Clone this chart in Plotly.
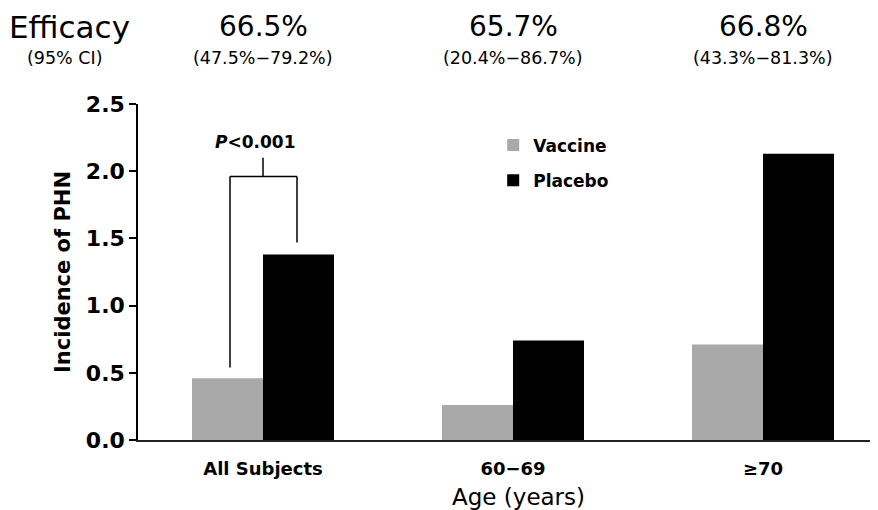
import plotly.graph_objects as go

categories = ["All Subjects", "60\u221269", "\u226570"]
vaccine = [0.46, 0.26, 0.71]
placebo = [1.38, 0.74, 2.13]
efficacy = ["66.5%", "65.7%", "66.8%"]
ci = ["(47.5%\u221279.2%)", "(20.4%\u221286.7%)", "(43.3%\u221281.3%)"]
yticks = [0.0, 0.5, 1.0, 1.5, 2.0, 2.5]

FONT = "DejaVu Sans"
xpos = list(range(len(categories)))

fig = go.Figure()
fig.add_trace(go.Bar(x=xpos, y=vaccine, name="<b>Vaccine</b>", marker_color="#a9a9a9",
                     marker_line_width=0, legendgroup="v"))
fig.add_trace(go.Bar(x=xpos, y=placebo, name="<b>Placebo</b>", marker_color="#000000",
                     marker_line_width=0, legendgroup="p"))

# significance bracket
lc = dict(color="black", width=1.5)
bl, br, bc = -0.132, 0.136, 0.0
fig.add_shape(type="line", x0=bl, x1=bl, y0=0.54, y1=1.96, line=lc)
fig.add_shape(type="line", x0=bl, x1=br, y0=1.96, y1=1.96, line=lc)
fig.add_shape(type="line", x0=br, x1=br, y0=1.96, y1=1.47, line=lc)
fig.add_shape(type="line", x0=bc, x1=bc, y0=1.96, y1=2.10, line=lc)
fig.add_annotation(x=-0.03, y=2.22, xref="x", yref="y", text="<b><i>P</i>&lt;0.001</b>",
                   showarrow=False, font=dict(family=FONT, size=17, color="black"))

# header
Y1, Y2 = (440 - 27) / 336, (440 - 58) / 336
fig.add_annotation(x=-0.093, y=Y1, xref="paper", yref="paper", text="Efficacy", showarrow=False,
                   xanchor="center", yanchor="middle", borderpad=0,
                   font=dict(family=FONT, size=31, color="black"))
fig.add_annotation(x=-0.098, y=Y2, xref="paper", yref="paper", text="(95% CI)", showarrow=False,
                   xanchor="center", yanchor="middle", borderpad=0,
                   font=dict(family=FONT, size=17.5, color="black"))
for i in xpos:
    fig.add_annotation(x=i, y=Y1, xref="x", yref="paper", text=efficacy[i], showarrow=False,
                       xanchor="center", yanchor="middle", borderpad=0,
                       font=dict(family=FONT, size=28, color="black"))
    fig.add_annotation(x=i, y=Y2, xref="x", yref="paper", text=ci[i], showarrow=False,
                       xanchor="center", yanchor="middle", borderpad=0,
                       font=dict(family=FONT, size=17.5, color="black"))

# x-axis title (offset right of centre as in the original)
fig.add_annotation(x=(519 - 138) / 740, y=-(497 - 440) / 336, xref="paper", yref="paper",
                   text="Age (years)", showarrow=False, xanchor="center", yanchor="middle",
                   borderpad=0, font=dict(family=FONT, size=23, color="black"))

fig.update_layout(
    width=878, height=510,
    margin=dict(l=130, r=8, t=96, b=78),
    paper_bgcolor="white", plot_bgcolor="white",
    barmode="group", bargap=0.432, bargroupgap=0,
    font=dict(family=FONT, color="black"),
    legend=dict(x=0.48, y=0.93, xanchor="left", yanchor="top", traceorder="grouped",
                tracegroupgap=10, font=dict(family=FONT, size=17, color="black"),
                bgcolor="rgba(0,0,0,0)"),
    xaxis=dict(range=[-0.5, 2.46], tickmode="array", tickvals=xpos,
               ticktext=["<b>%s</b>" % c for c in categories],
               tickfont=dict(family=FONT, size=18, color="black"),
               showline=True, linecolor="#222", linewidth=2, ticks="", showgrid=False,
               zeroline=False, ticklabelstandoff=11),
    yaxis=dict(range=[0, 2.5], tickmode="array", tickvals=yticks,
               ticktext=["<b>%.1f</b>" % v for v in yticks],
               tickfont=dict(family=FONT, size=22, color="black"),
               showline=True, linecolor="black", linewidth=1.5, ticks="outside", ticklen=7,
               tickwidth=1.5, tickcolor="black", showgrid=False, zeroline=False,
               title=dict(text="<b>Incidence of PHN</b>", font=dict(family=FONT, size=21, color="black"),
                          standoff=10)),
)

fig.write_html("out.html")
